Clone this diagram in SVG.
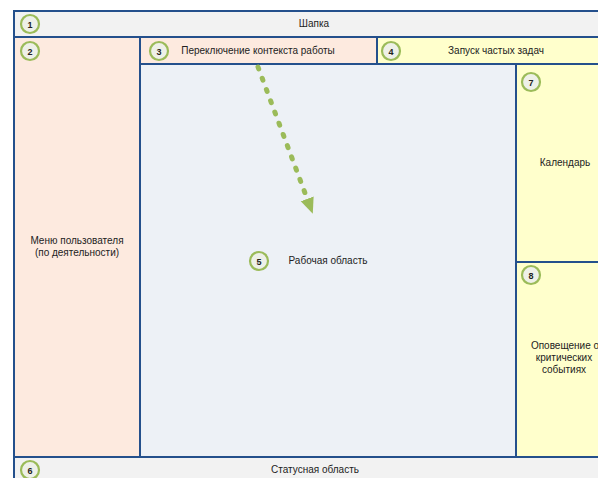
<svg xmlns="http://www.w3.org/2000/svg" width="598" height="478" viewBox="0 0 598 478">
<defs>
<style>
.box{stroke:#24508c;stroke-width:2}
.hdr{fill:#f2f2f2}
.peach{fill:#fdeadf}
.work{fill:#edf1f6}
.yel{fill:#ffffcc}
.badge circle{fill:#eef0e8;stroke:#9bbb59;stroke-width:2.2}
.badge text{font-weight:bold;font-size:9px}
text{font-family:"Liberation Sans",Arial,sans-serif;font-size:10px;fill:#222;text-anchor:middle}
.conn{stroke:#9bbb59;stroke-width:5;stroke-linecap:round;stroke-dasharray:2 10;fill:none}
</style>
<marker id="ah" markerWidth="16" markerHeight="16" refX="2" refY="6" orient="auto" markerUnits="userSpaceOnUse" viewBox="0 0 14 12">
<path d="M0,0 L14,6 L0,12 Z" fill="#9bbb59"/>
</marker>
</defs>
<rect width="598" height="478" fill="#ffffff"/>
<g id="n1">
<rect class="box hdr" x="14" y="11" width="600" height="26"/>
<text x="314" y="27">Шапка</text>
<g class="badge"><circle cx="30" cy="24" r="9"/><text x="30" y="27.5">1</text></g>
</g>
<g id="n2">
<rect class="box peach" x="14" y="37" width="126" height="420"/>
<text x="77" y="244">Меню пользователя</text>
<text x="77" y="256">(по деятельности)</text>
<g class="badge"><circle cx="30" cy="51" r="9"/><text x="30" y="54.5">2</text></g>
</g>
<g id="n5">
<rect class="box work" x="140" y="64" width="376" height="393"/>
<text x="328" y="264">Рабочая область</text>
<g class="badge"><circle cx="259" cy="261" r="9"/><text x="259" y="264.5">5</text></g>
</g>
<g id="n3">
<rect class="box peach" x="140" y="37" width="237" height="27"/>
<text x="258" y="54">Переключение контекста работы</text>
<g class="badge"><circle cx="159" cy="51" r="9"/><text x="159" y="54.5">3</text></g>
</g>
<g id="n4">
<rect class="box yel" x="377" y="37" width="240" height="27"/>
<text x="496" y="54">Запуск частых задач</text>
<g class="badge"><circle cx="391" cy="51" r="9"/><text x="391" y="54.5">4</text></g>
</g>
<g id="n7">
<rect class="box yel" x="516" y="64" width="100" height="198"/>
<text x="565" y="166">Календарь</text>
<g class="badge"><circle cx="531" cy="82" r="9"/><text x="531" y="85.5">7</text></g>
</g>
<g id="n8">
<rect class="box yel" x="516" y="262" width="100" height="195"/>
<text x="565" y="349">Оповещение о</text>
<text x="564" y="361">критических</text>
<text x="564" y="373">событиях</text>
<g class="badge"><circle cx="531" cy="275" r="9"/><text x="531" y="278.5">8</text></g>
</g>
<g id="n6">
<rect class="box hdr" x="14" y="457" width="600" height="30"/>
<text x="315" y="473">Статусная область</text>
<g class="badge"><circle cx="30" cy="470" r="9"/><text x="30" y="473.5">6</text></g>
</g>
<g id="connectors">
<path class="conn" d="M258,67 L308,201" marker-end="url(#ah)"/>
</g>
</svg>
